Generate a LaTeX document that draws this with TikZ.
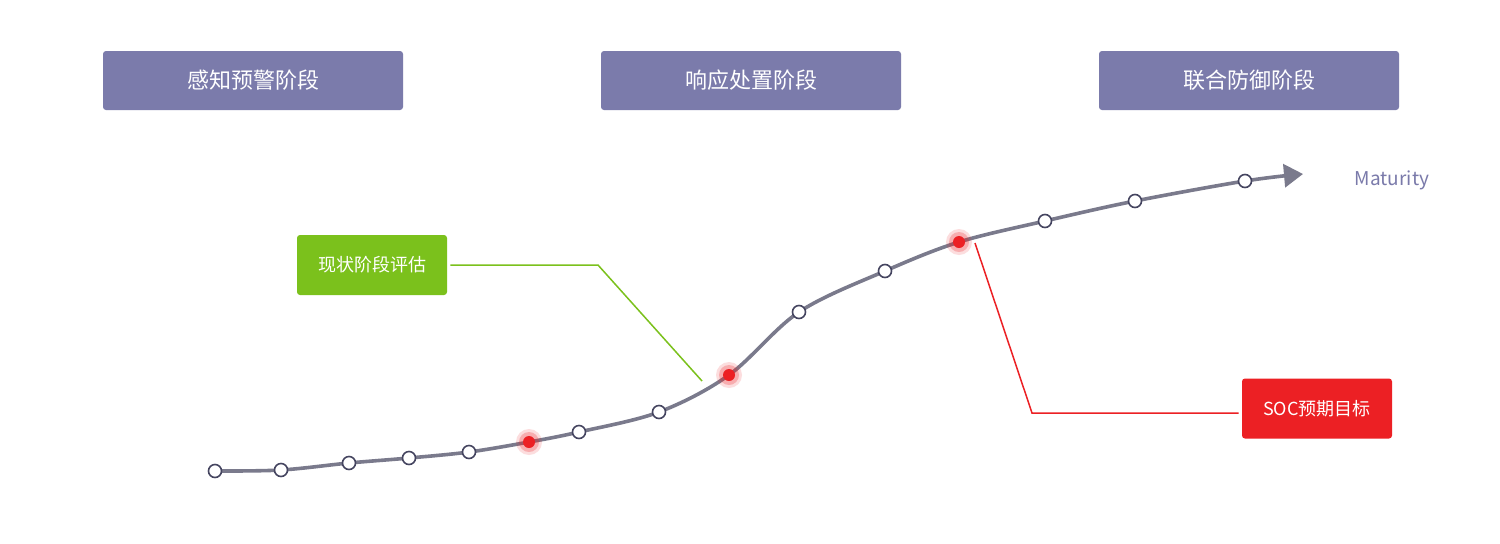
\documentclass[tikz,border=0pt]{standalone}
\usepackage{fontspec}
\setmainfont{Noto Sans CJK SC}
\usetikzlibrary{arrows.meta}
\definecolor{stagepurple}{HTML}{7B7BAB}
\definecolor{curvegray}{HTML}{7A7A8C}
\definecolor{dotedge}{HTML}{454560}
\definecolor{leafgreen}{HTML}{7BC11C}
\definecolor{alertred}{HTML}{EC2024}
\definecolor{labelpurple}{HTML}{7A7AAA}
\tikzset{
  stagebox/.style={fill=stagepurple, text=white, rounded corners=1.5pt, minimum width=150pt, minimum height=29.5pt, inner sep=0pt, font=\fontsize{11}{13}\selectfont},
  notebox/.style={fill=#1, text=white, rounded corners=1.5pt, minimum width=75pt, minimum height=30pt, inner sep=0pt, font=\fontsize{9}{11}\selectfont},
  ringdot/.style={circle, draw=dotedge, fill=white, line width=0.8pt, minimum size=6.5pt, inner sep=0pt},
  hotdot/.style={circle, fill=alertred, minimum size=6pt, inner sep=0pt},
  glow/.style={fill=alertred, opacity=#1, draw=none},
  curve/.style={draw=curvegray, line width=1.8pt}
}

\begin{document}
\begin{tikzpicture}[x=0.5pt, y=-0.5pt]
  \useasboundingbox[fill=white] (0,0) rectangle (1500,543);
  %%%%% STAGES %%%%%
  \node[stagebox] (sense) at (253,80.5) {感知预警阶段};
  \node[stagebox] (respond) at (751,80.5) {响应处置阶段};
  \node[stagebox] (joint) at (1249,80.5) {联合防御阶段};

  %%%%% CURVE %%%%%
  \foreach \x/\y [count=\i] in {215/471, 281/470, 349/463, 409/458, 469/452, 529/442, 579/432, 659/412, 729/375, 799/312, 885/271, 959/242, 1045/221, 1135/201, 1245/181}
    \coordinate (p\i) at (\x,\y);
  \coordinate (tip) at (1303,174);
  \draw[curve, -{Triangle[length=9.5pt, width=11.5pt]}] plot[smooth, tension=0.55] coordinates {(p1) (p2) (p3) (p4) (p5) (p6) (p7) (p8) (p9) (p10) (p11) (p12) (p13) (p14) (p15) (tip)};

  \foreach \i in {1,2,3,4,5,7,8,10,11,13,14,15}
    \node[ringdot] (d\i) at (p\i) {};
  \foreach \i in {6,9,12}{
    \fill[glow=0.15] (p\i) circle (13);
    \fill[glow=0.25] (p\i) circle (10);
    \node[hotdot] (d\i) at (p\i) {};
  }

  \node[text=labelpurple, font=\fontsize{9.5}{11}\selectfont] (maturity) at (1392,180) {Maturity};

  %%%%% CALLOUTS %%%%%
  \node[notebox=leafgreen] (current) at (372,265) {现状阶段评估};
  \coordinate (gbend) at (598,265);
  \coordinate (gend) at (702,381);
  \draw[leafgreen, line width=0.75pt] ([xshift=1.5pt]current.east) -- (gbend) -- (gend);

  \node[notebox=alertred] (target) at (1317,408.5) {SOC预期目标};
  \coordinate (rstart) at (975,243);
  \coordinate (rbend) at (1032,413);
  \draw[alertred, line width=0.75pt] (rstart) -- (rbend) -- ([xshift=-1.5pt]target.west |- rbend);
\end{tikzpicture}
\end{document}
